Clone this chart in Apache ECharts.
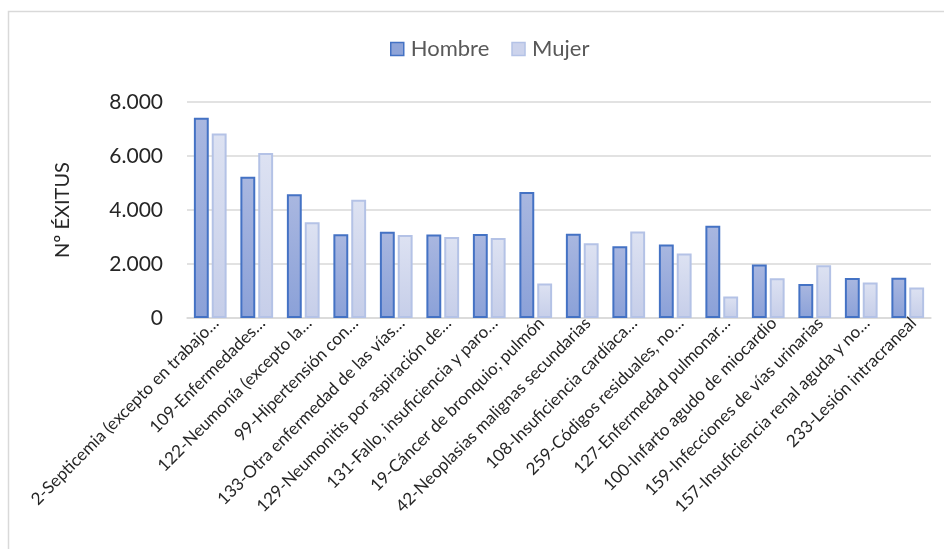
<!DOCTYPE html>
<html><head><meta charset="utf-8">
<script src="https://cdn.jsdelivr.net/npm/echarts@6/dist/echarts.min.js"></script>
<style>html,body{margin:0;padding:0;background:#fff}#c{width:944px;height:549px}</style>
</head><body><div id="c"></div>
<script>
const categories = [
  "2-Septicemia (excepto en trabajo…",
  "109-Enfermedades…",
  "122-Neumonía (excepto la…",
  "99-Hipertensión con…",
  "133-Otra enfermedad de las vías…",
  "129-Neumonitis por aspiración de…",
  "131-Fallo, insuficiencia y paro…",
  "19-Cáncer de bronquio; pulmón",
  "42-Neoplasias malignas secundarias",
  "108-Insuficiencia cardíaca…",
  "259-Códigos residuales, no…",
  "127-Enfermedad pulmonar…",
  "100-Infarto agudo de miocardio",
  "159-Infecciones de vías urinarias",
  "157-Insuficiencia renal aguda y no…",
  "233-Lesión intracraneal"
];
const hombre = [7420, 5230, 4580, 3100, 3190, 3090, 3115, 4665, 3125, 2660, 2720, 3420, 1980, 1255, 1480, 1490];
const mujer  = [6830, 6115, 3545, 4380, 3075, 3000, 2965, 1280, 2770, 3200, 2385, 800, 1475, 1955, 1315, 1130];
const yTicks = [0, 2000, 4000, 6000, 8000];

const chart = echarts.init(document.getElementById('c'), null, {renderer:'canvas'});
const F = 'Lato';
chart.setOption({
  animation:false,
  textStyle:{fontFamily:F},
  graphic:[{type:'rect', shape:{x:8.5,y:11.5,width:1000,height:600}, style:{fill:'none', stroke:'#d9d9d9', lineWidth:1.5}}],
  legend:{
    top:33, left:385, itemWidth:13, itemHeight:13, itemGap:22,
    textStyle:{fontSize:22, color:'#595959', fontFamily:F, padding:[0,0,0,2]},
    data:[
      {name:'Hombre', icon:'rect', itemStyle:{color:'#8fa4d8', borderColor:'#4472c4', borderWidth:1.5}},
      {name:'Mujer', icon:'rect', itemStyle:{color:'#ccd3ec', borderColor:'#b4c2e6', borderWidth:1.5}}
    ]
  },
  grid:{left:187, right:13, top:102, bottom:231, containLabel:false},
  xAxis:{
    type:'category', data:categories,
    axisLine:{lineStyle:{color:'#d9d9d9', width:1.5}},
    axisTick:{show:false},
    axisLabel:{rotate:45, interval:0, fontSize:17, color:'#262626', margin:8, fontFamily:F, padding:[0,-8,0,0]}
  },
  yAxis:{
    type:'value', min:0, max:8000, interval:2000,
    name:'Nº ÉXITUS', nameLocation:'middle', nameGap:114, nameRotate:90,
    nameTextStyle:{fontSize:20, color:'#262626', fontFamily:F},
    axisLine:{show:false}, axisTick:{show:false},
    splitLine:{lineStyle:{color:'#d9d9d9', width:1.5}},
    axisLabel:{fontSize:21, color:'#262626', margin:24, fontFamily:F,
      formatter: v => yTicks.includes(v) ? (v===0?'0':String(v/1000)+'.000') : ''}
  },
  series:[
    {name:'Hombre', type:'bar', data:hombre, barWidth:'32%', barGap:'20%',
     itemStyle:{borderColor:'#4472c4', borderWidth:2,
       color:new echarts.graphic.LinearGradient(0,0,0,1,[{offset:0,color:'#a9b7e0'},{offset:1,color:'#8ba1d8'}])}},
    {name:'Mujer', type:'bar', data:mujer, barWidth:'32%',
     itemStyle:{borderColor:'#b4c2e6', borderWidth:2,
       color:new echarts.graphic.LinearGradient(0,0,0,1,[{offset:0,color:'#dde2f2'},{offset:1,color:'#c6cee9'}])}}
  ]
});
</script></body></html>
